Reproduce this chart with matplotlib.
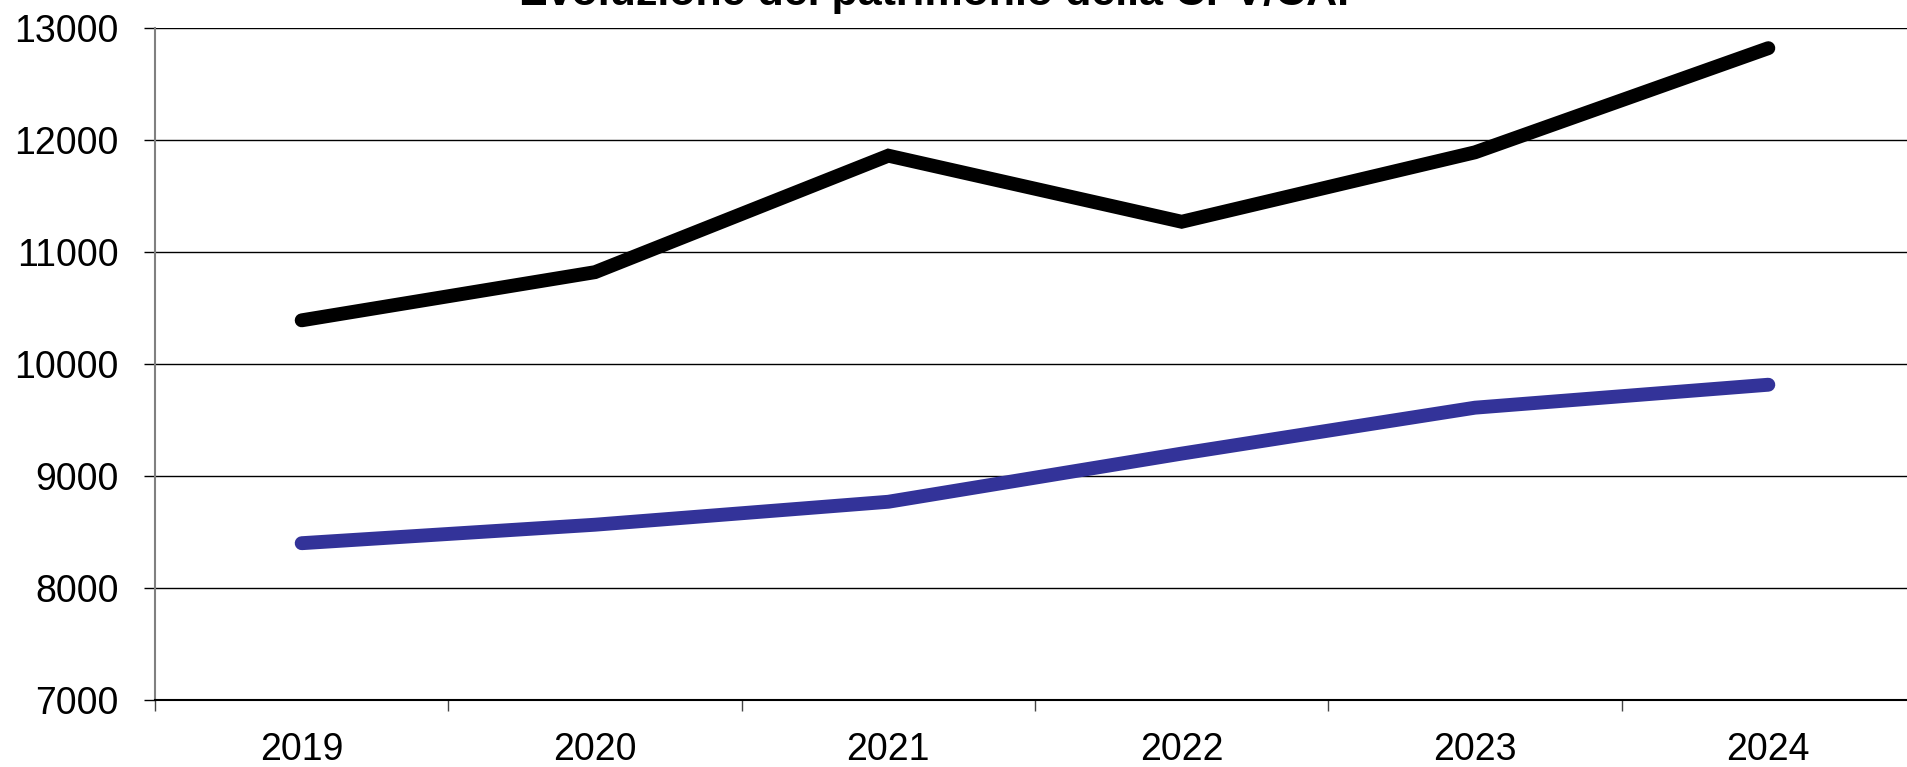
import matplotlib
matplotlib.use("Agg")
import matplotlib.pyplot as plt
from matplotlib.ticker import FixedLocator, NullFormatter

plt.rcParams['font.family'] = ['Liberation Sans', 'DejaVu Sans']

# dati
anni = ['2019', '2020', '2021', '2022', '2023', '2024']
serie_nera = [10390, 10820, 11860, 11270, 11890, 12820]
serie_blu = [8400, 8565, 8770, 9200, 9610, 9815]
titolo = "Evoluzione del patrimonio della CPV/CAP"

fig = plt.figure(figsize=(19.08, 7.67), dpi=100)
ax = fig.add_axes([155 / 1908, 1 - 700 / 767, 1760 / 1908, 672 / 767])

x = [i + 0.5 for i in range(len(anni))]
ax.plot(x, serie_nera, color='black', linewidth=10,
        solid_capstyle='round', solid_joinstyle='miter')
ax.plot(x, serie_blu, color='#333399', linewidth=10,
        solid_capstyle='round', solid_joinstyle='miter')

ax.set_xlim(0, len(anni))
ax.set_ylim(7000, 13000)
ax.set_yticks(range(7000, 13001, 1000))
ax.yaxis.grid(True, color='black', linewidth=1)
ax.set_axisbelow(True)

# etichette al centro, tacche ai bordi delle categorie
ax.set_xticks(x)
ax.set_xticklabels(anni)
ax.xaxis.set_minor_locator(FixedLocator(range(len(anni) + 1)))
ax.xaxis.set_minor_formatter(NullFormatter())
ax.tick_params(axis='x', which='major', length=0, pad=23, labelsize=27)
ax.tick_params(axis='x', which='minor', length=8, width=1, color='#444444', direction='out')
ax.tick_params(axis='y', length=8, width=1, color='black', direction='out', pad=18, labelsize=27)

for s in ['top', 'right']:
    ax.spines[s].set_visible(False)
ax.spines['left'].set_color('#808080')
ax.spines['left'].set_linewidth(1.5)
ax.spines['bottom'].set_color('black')
ax.spines['bottom'].set_linewidth(1.5)

fig.text(942 / 1908, 1 - 5 / 767, titolo, ha='center', va='baseline',
         fontsize=31, fontweight='bold')

fig.savefig('out.png', dpi=100)
